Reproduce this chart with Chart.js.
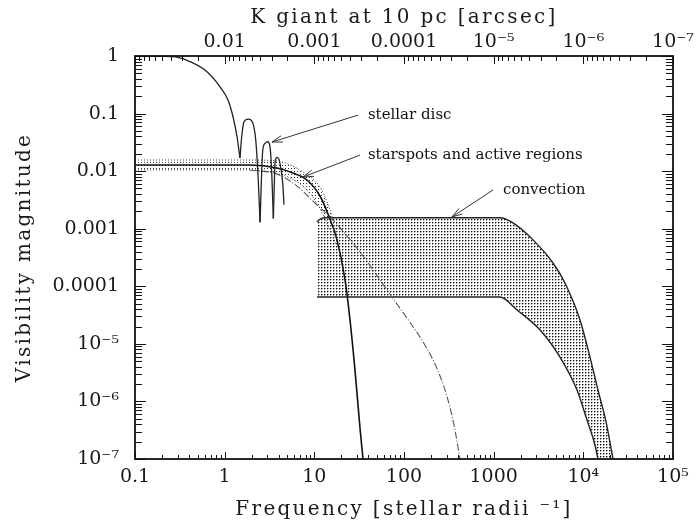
<!DOCTYPE html>
<html lang="en">
<head>
<meta charset="UTF-8">
<title>Visibility magnitude vs frequency</title>
<script src="https://cdn.jsdelivr.net/npm/chart.js"></script>
<style>
    body { margin: 0; background: #fff; }
    #wrap { width: 697px; height: 523px; }
</style>
</head>
<body>
<div id="wrap"><canvas id="visChart" width="697" height="523"></canvas></div>
<script>
// values: frequency [stellar radii^-1] and visibility magnitude
const discFreq = [0.1, 0.2, 0.3, 0.41, 0.635, 0.887, 1.089, 1.239, 1.372, 1.482, 1.55, 1.64, 1.84, 2.03, 2.22, 2.37, 2.48, 2.66, 2.82, 3.02, 3.2, 3.35, 3.49, 3.67, 3.87, 4.14, 4.44, 4.59];
const discVis  = [1, 0.99, 0.95, 0.8, 0.533, 0.292, 0.172, 0.088, 0.040, 0.0169, 0.040, 0.072, 0.080, 0.072, 0.035, 0.0070, 0.0013, 0.0233, 0.0304, 0.0324, 0.0266, 0.0092, 0.0015, 0.0156, 0.0174, 0.0137, 0.0062, 0.0026];
const discNulls = [9, 16, 22]; // indexes of the minima (sharp dips)

const spotFreq = [0.1, 1.92, 3.84, 5.78, 8.28, 11.56, 14.2, 17.9, 22.0, 25.0, 28.4, 32.3, 34.9];
const spotVis  = [0.0128, 0.0128, 0.01135, 0.00929, 0.00702, 0.0037, 0.0018, 6.4e-4, 1.29e-4, 2.6e-5, 3.5e-6, 3.45e-7, 1e-7];

const bandTopFreq = [0.1, 1.92, 3.84, 5.36, 7.48, 11.56, 14.96, 18.4];
const bandTopVis  = [0.0156, 0.0156, 0.0150, 0.0128, 0.00966, 0.0053, 0.00211, 6.4e-4];
const bandLowFreq = [0.1, 1.92, 3.2, 5.36, 7.87, 11.0, 14.2, 17.5];
const bandLowVis  = [0.0105, 0.0105, 0.00966, 0.0076, 0.0051, 0.00258, 0.00116, 5.2e-4];

const smallSpotFreq = [1.92, 3.84, 6.41, 10.7, 15.0, 32.3, 73.5, 108, 163, 227, 294, 361, 421];
const smallSpotVis  = [0.0105, 0.0089, 0.0055, 0.00258, 0.0016, 3.94e-4, 6.5e-5, 2.8e-5, 1.08e-5, 4.1e-6, 1.4e-6, 3.9e-7, 1e-7];

const convTopFreq = [10.7, 11.6, 13.5, 1175, 1641, 2746, 4590, 6240, 9180, 11860, 14560, 17920, 21400];
const convTopVis  = [1.31e-3, 1.47e-3, 1.55e-3, 1.55e-3, 1.26e-3, 6.4e-4, 2.54e-4, 1.14e-4, 2.6e-5, 5.9e-6, 1.58e-6, 4.4e-7, 1e-7];
const convLowFreq = [10.7, 1175, 1820, 3290, 5490, 8500, 10990, 13490, 14560];
const convLowVis  = [6.5e-5, 6.5e-5, 3.87e-5, 1.74e-5, 5.9e-6, 1.58e-6, 4.75e-7, 1.75e-7, 1e-7];

// axes
const xDecades = [0.1, 1, 10, 100, 1000, 1e4, 1e5];
const xTickLabels = ['0.1', '1', '10', '100', '1000', '10⁴', '10⁵'];
const yDecades = [1e-7, 1e-6, 1e-5, 1e-4, 1e-3, 0.01, 0.1, 1];
const yTickLabels = ['10⁻⁷', '10⁻⁶', '10⁻⁵', '0.0001', '0.001', '0.01', '0.1', '1'];
const topDecades = [1e-7, 1e-6, 1e-5, 1e-4, 1e-3, 0.01, 0.1];
const topTickLabels = ['10⁻⁷', '10⁻⁶', '10⁻⁵', '0.0001', '0.001', '0.01', ''];

// labels with arrows (text anchor, arrow start, arrow tip)
const noteText = ['stellar disc', 'starspots and active regions', 'convection'];
const noteFreq = [39.6, 39.6, 1270];
const noteVis  = [0.094, 0.019, 0.0047];
const arrowFromFreq = [30.7, 32.3, 982];
const arrowFromVis  = [0.094, 0.019, 0.0047];
const arrowToFreq = [3.37, 7.48, 343];
const arrowToVis  = [0.032, 0.0079, 0.0016];

const pts = (xs, ys) => xs.map((x, i) => ({x: x, y: ys[i]}));
const loop = (xa, ya, xb, yb) => pts(xa, ya).concat(pts(xb, yb).reverse());

function logTicks(decades) {
    const out = [];
    decades.forEach((d, i) => {
        out.push({value: d});
        if (i < decades.length - 1) {
            for (let m = 2; m <= 9; m++) out.push({value: d * m});
        }
    });
    return out;
}
const isDecade = v => Math.abs(Math.log10(v) - Math.round(Math.log10(v))) < 1e-6;
function labelFor(v, decades, labels) {
    const i = decades.findIndex(d => Math.abs(Math.log10(d) - Math.log10(v)) < 1e-6);
    return i < 0 ? '' : labels[i];
}

function dots(color, soft) {
    const c = document.createElement('canvas');
    c.width = 3; c.height = 3;
    const g = c.getContext('2d');
    g.fillStyle = color;
    g.fillRect(0, 0, 1, 1);
    if (soft) {
        g.fillStyle = soft;
        g.fillRect(1, 0, 1, 1);
        g.fillRect(0, 1, 1, 1);
    }
    return g.createPattern(c, 'repeat');
}

// the disc curve is split at its nulls so the dips stay sharp
const discParts = [0].concat(discNulls, [discFreq.length - 1]);
const discSets = discParts.slice(0, -1).map((s, k) => ({
    label: 'stellar disc',
    data: pts(discFreq.slice(s, discParts[k + 1] + 1), discVis.slice(s, discParts[k + 1] + 1)),
    borderColor: '#222', borderWidth: 1.3, cubicInterpolationMode: 'monotone'
}));

// frame with inward ticks on all sides
const frameTicks = {
    id: 'frameTicks',
    afterDraw(chart) {
        const {ctx, chartArea: a, scales} = chart;
        ctx.save();
        ctx.strokeStyle = '#111';
        ctx.lineWidth = 1;
        ctx.beginPath();
        scales.y.ticks.forEach(t => {
            const py = Math.round(scales.y.getPixelForValue(t.value)) + 0.5;
            const len = isDecade(t.value) ? 11 : 7;
            ctx.moveTo(a.left, py); ctx.lineTo(a.left + len, py);
            ctx.moveTo(a.right, py); ctx.lineTo(a.right - len, py);
        });
        scales.x.ticks.forEach(t => {
            const px = Math.round(scales.x.getPixelForValue(t.value)) + 0.5;
            const len = isDecade(t.value) ? 7 : 4;
            ctx.moveTo(px, a.bottom); ctx.lineTo(px, a.bottom - len);
        });
        scales.x2.ticks.forEach(t => {
            const px = Math.round(scales.x2.getPixelForValue(t.value)) + 0.5;
            const len = isDecade(t.value) ? 8 : 5;
            ctx.moveTo(px, a.top); ctx.lineTo(px, a.top + len);
        });
        ctx.stroke();
        ctx.lineWidth = 1.8;
        ctx.strokeRect(a.left, a.top, a.right - a.left, a.bottom - a.top);
        ctx.restore();
    }
};

// axis titles in the original are set wide; tick labels are not
const spacing = {
    id: 'spacing',
    beforeDraw(chart) { chart.ctx.letterSpacing = '2.3px'; },
    beforeDatasetsDraw(chart) { chart.ctx.letterSpacing = '0px'; }
};

const notes = {
    id: 'notes',
    afterDatasetsDraw(chart) {
        const {ctx, scales: {x, y}} = chart;
        ctx.save();
        ctx.font = '15px "DejaVu Serif"';
        ctx.fillStyle = '#111';
        ctx.strokeStyle = '#333';
        ctx.lineWidth = 1;
        ctx.textBaseline = 'middle';
        noteText.forEach((t, i) => {
            ctx.fillText(t, x.getPixelForValue(noteFreq[i]), y.getPixelForValue(noteVis[i]));
            const x0 = x.getPixelForValue(arrowFromFreq[i]), y0 = y.getPixelForValue(arrowFromVis[i]);
            const x1 = x.getPixelForValue(arrowToFreq[i]), y1 = y.getPixelForValue(arrowToVis[i]);
            const ang = Math.atan2(y1 - y0, x1 - x0);
            ctx.beginPath();
            ctx.moveTo(x0, y0); ctx.lineTo(x1, y1);
            [-0.3, 0.3].forEach(s => {
                ctx.moveTo(x1, y1);
                ctx.lineTo(x1 - 11 * Math.cos(ang + s), y1 - 11 * Math.sin(ang + s));
            });
            ctx.stroke();
        });
        ctx.restore();
    }
};

Chart.defaults.font.family = '"DejaVu Serif", serif';
Chart.defaults.color = '#1a1a1a';

const tickFont = {size: 19};
const titleFont = {size: 20};
const noPad = s => { s.paddingLeft = 0; s.paddingRight = 0; s.paddingTop = 0; s.paddingBottom = 0; };

new Chart(document.getElementById('visChart'), {
    type: 'line',
    data: {
        datasets: discSets.concat([
            {label: 'starspots', data: pts(spotFreq, spotVis), borderColor: '#111', borderWidth: 1.6, cubicInterpolationMode: 'monotone'},
            {label: 'spot band top', data: pts(bandTopFreq, bandTopVis), borderColor: '#333', borderWidth: 1, borderDash: [1, 2], cubicInterpolationMode: 'monotone'},
            {label: 'spot band low', data: pts(bandLowFreq, bandLowVis), borderColor: '#333', borderWidth: 1, borderDash: [1, 2], cubicInterpolationMode: 'monotone'},
            {label: 'small spots', data: pts(smallSpotFreq, smallSpotVis), borderColor: '#555', borderWidth: 1.1, borderDash: [7, 2, 1, 2], cubicInterpolationMode: 'monotone'},
            {label: 'convection top', data: pts(convTopFreq, convTopVis), borderColor: '#222', borderWidth: 1.4, cubicInterpolationMode: 'monotone'},
            {label: 'convection low', data: pts(convLowFreq, convLowVis), borderColor: '#222', borderWidth: 1.4, cubicInterpolationMode: 'monotone'},
            {label: 'spot band', data: loop(bandTopFreq, bandTopVis, bandLowFreq, bandLowVis), borderWidth: 0, fill: 'shape', backgroundColor: dots('#333'), tension: 0.2},
            {label: 'convection', data: loop(convTopFreq, convTopVis, convLowFreq, convLowVis), borderWidth: 0, fill: 'shape', backgroundColor: dots('#111', '#999'), tension: 0.2}
        ])
    },
    options: {
        responsive: false,
        animation: false,
        events: [],
        layout: {padding: {left: 0, top: 0, right: 24, bottom: 0}},
        elements: {point: {radius: 0}},
        plugins: {legend: {display: false}, tooltip: {enabled: false}},
        scales: {
            x: {
                type: 'logarithmic', position: 'bottom', min: 0.1, max: 1e5,
                grid: {display: false, drawTicks: false}, border: {display: false},
                afterBuildTicks: s => { s.ticks = logTicks(xDecades); },
                afterFit: s => { s.height = 64; noPad(s); },
                ticks: {font: tickFont, padding: 7, autoSkip: false, maxRotation: 0, z: 1,
                    callback: v => labelFor(v, xDecades, xTickLabels)},
                title: {display: true, text: 'Frequency [stellar radii ⁻¹]', font: titleFont, padding: {top: 0, bottom: 1}}
            },
            x2: {
                type: 'logarithmic', position: 'top', min: 1e-7, max: 0.1, reverse: true,
                grid: {display: false, drawTicks: false}, border: {display: false},
                afterBuildTicks: s => { s.ticks = logTicks(topDecades); },
                afterFit: s => { s.height = 56; noPad(s); },
                ticks: {font: tickFont, padding: 3, autoSkip: false, maxRotation: 0, z: 1,
                    callback: v => labelFor(v, topDecades, topTickLabels)},
                title: {display: true, text: 'K giant at 10 pc [arcsec]', font: titleFont, padding: {top: 6, bottom: 0}}
            },
            y: {
                type: 'logarithmic', position: 'left', min: 1e-7, max: 1,
                grid: {display: false, drawTicks: false}, border: {display: false},
                afterBuildTicks: s => { s.ticks = logTicks(yDecades); },
                afterFit: s => { s.width = 135; noPad(s); },
                ticks: {font: tickFont, padding: 16, autoSkip: false, z: 1,
                    callback: v => labelFor(v, yDecades, yTickLabels)},
                title: {display: true, text: 'Visibility magnitude', font: titleFont, padding: {top: 13, bottom: 0}}
            }
        }
    },
    plugins: [spacing, notes, frameTicks]
});
</script>
</body>
</html>
